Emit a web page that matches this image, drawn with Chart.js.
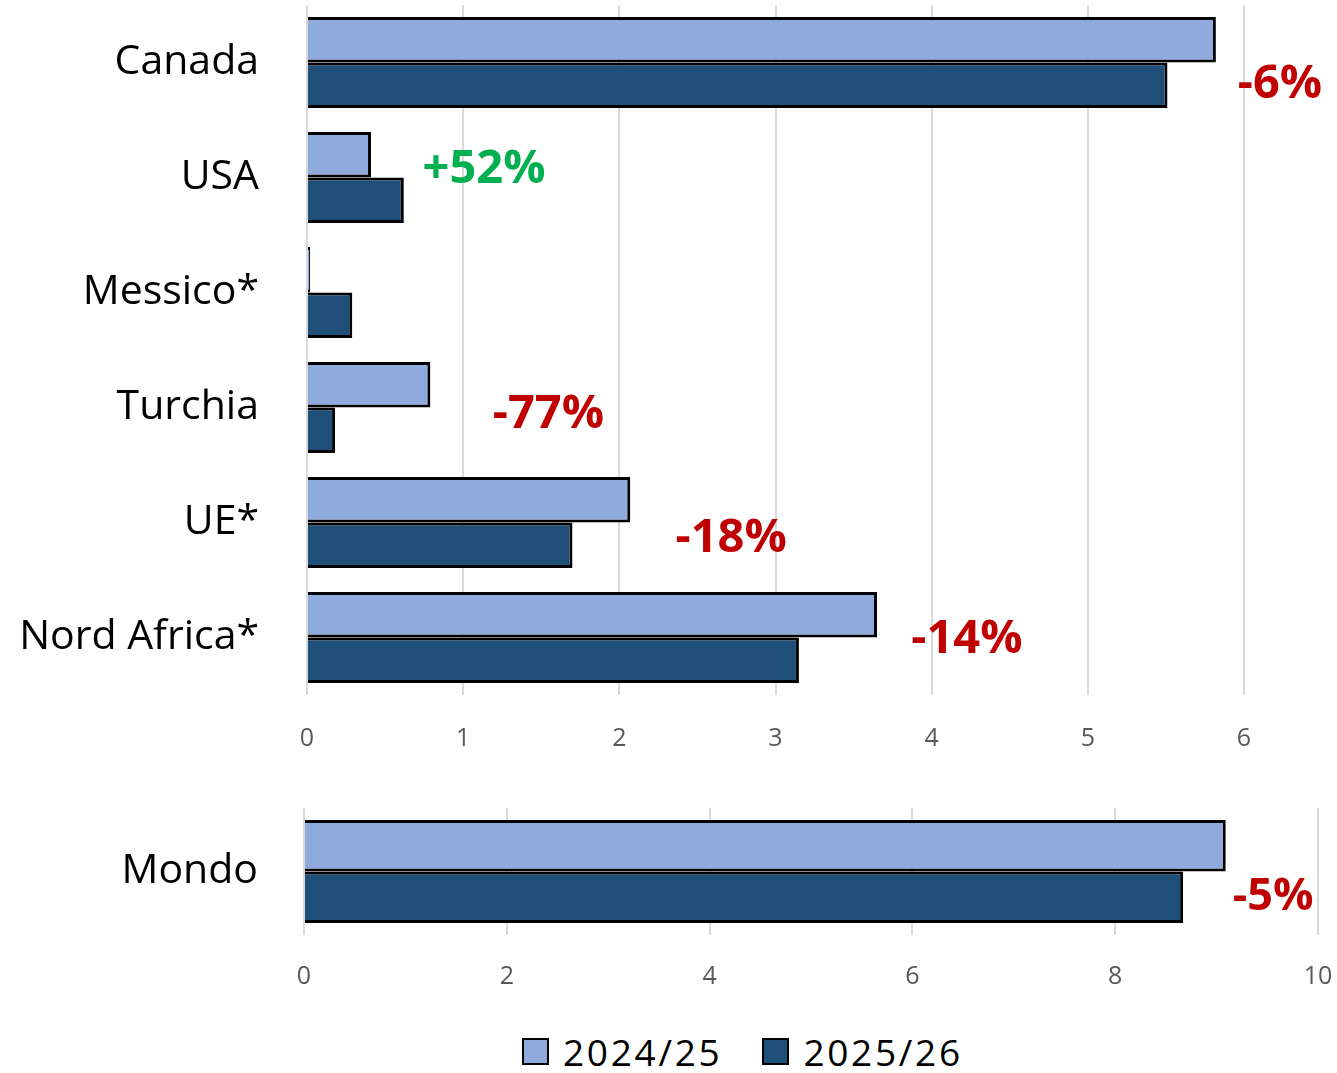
<!DOCTYPE html>
<html>
<head>
<meta charset="utf-8">
<script src="https://cdn.jsdelivr.net/npm/chart.js@4/dist/chart.umd.min.js"></script>
<style>
  html,body{margin:0;padding:0;background:#fff;}
  body{width:1337px;height:1073px;overflow:hidden;position:relative;font-family:"Open Sans",sans-serif;}
  #topWrap{position:absolute;left:0;top:0;width:1337px;height:760px;}
  #botWrap{position:absolute;left:0;top:770px;width:1337px;height:230px;}
  #legend{position:absolute;left:522px;top:1026px;display:flex;align-items:center;font-family:"Open Sans";font-size:37px;letter-spacing:2.7px;color:#000;}
  .item{display:flex;align-items:center;margin-right:40px;}
  .box{width:23px;height:23px;border:2px solid #000;margin-right:14px;}
</style>
</head>
<body>
<div id="topWrap"><canvas id="topChart"></canvas></div>
<div id="botWrap"><canvas id="botChart"></canvas></div>
<div id="legend"></div>
<script>
// ---- Data ----
const categories = ['Canada', 'USA', 'Messico*', 'Turchia', 'UE*', 'Nord Africa*'];
const seriesNames = ['2024/25', '2025/26'];
const values2425 = [5.82, 0.41, 0.02, 0.79, 2.07, 3.65];
const values2526 = [5.51, 0.62, 0.29, 0.18, 1.70, 3.15];
const changeTexts = ['-6%', '+52%', '', '-77%', '-18%', '-14%'];

const worldCategories = ['Mondo'];
const world2425 = [9.09];
const world2526 = [8.67];
const worldChangeTexts = ['-5%'];

const topTickMax = 6, topTickStep = 1;
const botTickMax = 10, botTickStep = 2;

// ---- Styles / label placement (kept separate from data) ----
const colorLight = '#8FAADC';
const colorDark = '#1F4E79';
const red = '#C00000', green = '#00B050';
const topLabelAnchors = [5.96, 0.74, 0, 1.19, 2.36, 3.87]; // x (data units) where label text starts
const topLabelOffsets = [22, -8, 0, 7, 16, 2];             // px offset from category centre
const botLabelAnchors = [9.16];
const botLabelOffsets = [26];

const changeLabelPlugin = {
  id: 'changeLabels',
  afterDatasetsDraw(chart, args, opts) {
    const ctx = chart.ctx;
    const xs = chart.scales.x, ys = chart.scales.y;
    ctx.save();
    ctx.font = 'bold ' + opts.size + 'px "Open Sans"';
    ctx.textAlign = 'left';
    ctx.textBaseline = 'middle';
    opts.texts.forEach((t, i) => {
      if (!t) return;
      ctx.fillStyle = t.startsWith('+') ? green : red;
      ctx.fillText(t, xs.getPixelForValue(opts.anchors[i]), ys.getPixelForValue(i) + opts.offsets[i]);
    });
    ctx.restore();
  }
};

function makeChart(id, labels, d1, d2, max, step, opts) {
  return new Chart(document.getElementById(id), {
    type: 'bar',
    data: {
      labels: labels,
      datasets: [
        {label: seriesNames[0], data: d1, backgroundColor: colorLight, borderColor: '#000', borderWidth: 3,
         categoryPercentage: opts.catPct, barPercentage: 1},
        {label: seriesNames[1], data: d2, backgroundColor: colorDark, borderColor: '#000', borderWidth: 3,
         categoryPercentage: opts.catPct, barPercentage: 1}
      ]
    },
    options: {
      indexAxis: 'y',
      responsive: true,
      maintainAspectRatio: false,
      animation: false,
      layout: {padding: opts.padding},
      plugins: {
        legend: {display: false},
        tooltip: {enabled: false},
        changeLabels: {texts: opts.texts, anchors: opts.anchors, offsets: opts.offsets, size: opts.labelSize}
      },
      scales: {
        x: {
          min: 0, max: max,
          ticks: {stepSize: step, color: '#595959', font: {family: 'Open Sans', size: 25}, padding: opts.xPad},
          grid: {color: '#D9D9D9', lineWidth: 2, drawTicks: false},
          border: {display: false},
          afterFit(s) { s.height = 65; s.paddingLeft = 0; s.paddingRight = 0; }
        },
        y: {
          ticks: {color: '#000', font: {family: 'Open Sans', size: 41}, padding: opts.yPad},
          grid: {display: false, drawTicks: false},
          border: {display: false},
          afterFit(s) { s.width = opts.yWidth; s.paddingTop = 0; s.paddingBottom = 0; }
        }
      }
    },
    plugins: [changeLabelPlugin]
  });
}

const topChart = makeChart('topChart', categories, values2425, values2526, topTickMax, topTickStep, {
  catPct: 0.79, padding: {left: 0, right: 93, top: 5, bottom: 0}, xPad: 29, yPad: 48, yWidth: 307,
  texts: changeTexts, anchors: topLabelAnchors, offsets: topLabelOffsets, labelSize: 47
});
const botChart = makeChart('botChart', worldCategories, world2425, world2526, botTickMax, botTickStep, {
  catPct: 0.81, padding: {left: 0, right: 19, top: 38, bottom: 0}, xPad: 27, yPad: 46, yWidth: 304,
  texts: worldChangeTexts, anchors: botLabelAnchors, offsets: botLabelOffsets, labelSize: 45
});

// Legend built from the chart's datasets
const legend = document.getElementById('legend');
botChart.data.datasets.forEach(ds => {
  const item = document.createElement('div');
  item.className = 'item';
  const box = document.createElement('div');
  box.className = 'box';
  box.style.background = ds.backgroundColor;
  const txt = document.createElement('span');
  txt.textContent = ds.label;
  item.appendChild(box); item.appendChild(txt);
  legend.appendChild(item);
});
</script>
</body>
</html>
